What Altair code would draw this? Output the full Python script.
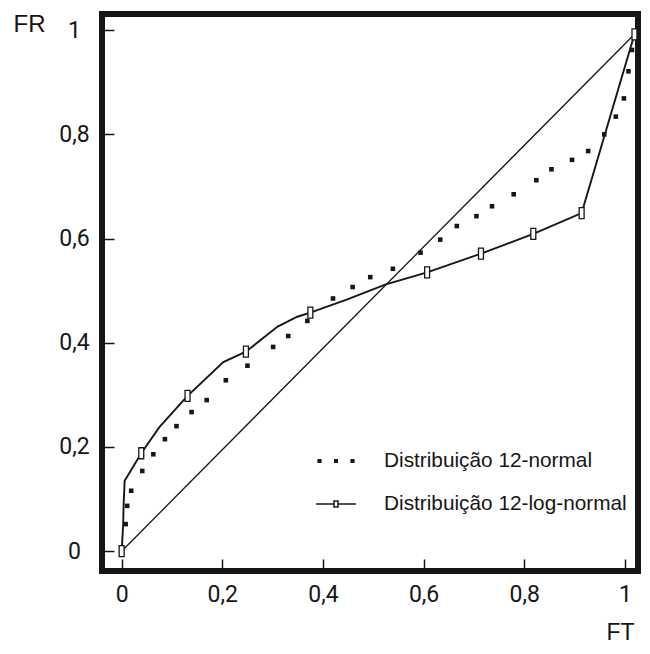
import altair as alt
import pandas as pd

# ---- data ----
series_names = ["Distribuição 12-normal", "Distribuição 12-log-normal"]

normal_x = [0.008, 0.011, 0.019, 0.041, 0.063, 0.086, 0.109, 0.139, 0.169, 0.207,
            0.250, 0.301, 0.331, 0.369, 0.420, 0.459, 0.494, 0.539, 0.594, 0.633,
            0.666, 0.705, 0.736, 0.779, 0.824, 0.854, 0.895, 0.927, 0.959, 0.982,
            0.998, 1.007, 1.014]
normal_y = [0.052, 0.087, 0.116, 0.154, 0.186, 0.215, 0.240, 0.267, 0.290, 0.328,
            0.356, 0.392, 0.413, 0.442, 0.485, 0.507, 0.526, 0.542, 0.573, 0.598,
            0.624, 0.643, 0.662, 0.685, 0.712, 0.733, 0.751, 0.768, 0.800, 0.834,
            0.869, 0.921, 0.962]

lognormal_line_x = [0.000, 0.003, 0.004, 0.006, 0.039, 0.075, 0.131, 0.202, 0.247,
                    0.310, 0.349, 0.375, 0.447, 0.525, 0.607, 0.714, 0.818, 0.914, 1.019]
lognormal_line_y = [0.000, 0.050, 0.090, 0.135, 0.188, 0.238, 0.298, 0.363, 0.383,
                    0.431, 0.450, 0.458, 0.483, 0.512, 0.535, 0.571, 0.609, 0.649, 0.992]

lognormal_mark_x = [0.000, 0.039, 0.131, 0.247, 0.375, 0.607, 0.714, 0.818, 0.914, 1.019]
lognormal_mark_y = [0.000, 0.188, 0.298, 0.383, 0.458, 0.535, 0.571, 0.609, 0.649, 0.992]

diag_x = [0.0, 1.019]
diag_y = [0.0, 0.992]

x_ticks = [0, 0.2, 0.4, 0.6, 0.8, 1]
y_ticks = [0, 0.2, 0.4, 0.6, 0.8, 1]

# ---- tables ----
df_normal = pd.DataFrame({"FT": normal_x, "FR": normal_y})
df_logline = pd.DataFrame({"FT": lognormal_line_x, "FR": lognormal_line_y,
                           "ordem": range(len(lognormal_line_x))})
df_logmark = pd.DataFrame({"FT": lognormal_mark_x, "FR": lognormal_mark_y})
df_diag = pd.DataFrame({"FT": diag_x, "FR": diag_y, "ordem": [0, 1]})
# legend-only table: no positions, so no marks drawn, only legend entries
df_legend = pd.DataFrame({"serie": series_names, "FT": [None, None], "FR": [None, None]})

INK = "#161616"
TICK_FONT = "Roboto, Liberation Sans, sans-serif"
TEXT_FONT = "Liberation Sans, Arial, sans-serif"

SYM_DOTS = ("M-0.89,-0.065h0.13v0.13h-0.13z"
            "M-0.065,-0.065h0.13v0.13h-0.13z"
            "M0.76,-0.065h0.13v0.13h-0.13z")
SYM_LINE = "M-1,0H-0.1M0.1,0H1M-0.1,-0.15h0.2v0.3h-0.2z"

xscale = alt.Scale(domain=[-0.039, 1.026], nice=False, zero=False)
yscale = alt.Scale(domain=[-0.038, 1.031], nice=False, zero=False)

label_expr = "replace(toString(datum.value), '.', ',')"

x_axis = alt.Axis(values=x_ticks, offset=-12, tickSize=12, domain=False, grid=False,
                  labelExpr=label_expr, labelFlush=False, labelPadding=12,
                  title="FT", titleAlign="right", titleBaseline="alphabetic",
                  titleX=532, titleY=80, titleAngle=0, titleFontSize=23)
y_axis = alt.Axis(values=y_ticks, offset=-12, tickSize=12, domain=False, grid=False,
                  labelExpr=label_expr, labelFlush=False, labelPadding=28,
                  labelAlign="center", labelBaseline="middle",
                  title="FR", titleAlign="left", titleBaseline="alphabetic",
                  titleX=-101, titleY=17, titleAngle=0, titleFontSize=24)

legend = alt.Legend(
    title=None, orient="none", legendX=213, legendY=426,
    symbolSize=1600, labelOffset=27, rowPadding=12, padding=0,
    symbolStrokeWidth=1.5, symbolOpacity=1,
    labelFont=TEXT_FONT, labelFontSize=20.8, labelColor=INK, labelLimit=400,
)

diag = alt.Chart(df_diag).mark_line(color=INK, strokeWidth=1.3).encode(
    x=alt.X("FT:Q", scale=xscale, axis=x_axis),
    y=alt.Y("FR:Q", scale=yscale, axis=y_axis),
    order="ordem:O",
)

logline = alt.Chart(df_logline).mark_line(color=INK, strokeWidth=1.9).encode(
    x=alt.X("FT:Q", scale=xscale),
    y=alt.Y("FR:Q", scale=yscale),
    order="ordem:O",
)

logmark = alt.Chart(df_logmark).mark_point(
    shape="M-0.45,-1h0.9v2h-0.9z", size=121, filled=True, fill="white",
    stroke=INK, strokeWidth=1.3, opacity=1,
).encode(
    x=alt.X("FT:Q", scale=xscale),
    y=alt.Y("FR:Q", scale=yscale),
)

normal = alt.Chart(df_normal).mark_square(size=21, opacity=1, color=INK).encode(
    x=alt.X("FT:Q", scale=xscale),
    y=alt.Y("FR:Q", scale=yscale),
)

legend_layer = alt.Chart(df_legend).mark_point(
    filled=True, size=1600, strokeWidth=1.5, opacity=1,
).encode(
    x=alt.X("FT:Q", scale=xscale),
    y=alt.Y("FR:Q", scale=yscale),
    fill=alt.Fill("serie:N", scale=alt.Scale(domain=series_names, range=[INK, "white"]),
                  legend=legend),
    stroke=alt.Stroke("serie:N", scale=alt.Scale(domain=series_names, range=[INK, INK]),
                      legend=legend),
    shape=alt.Shape("serie:N", scale=alt.Scale(domain=series_names, range=[SYM_DOTS, SYM_LINE]),
                    legend=legend),
)

chart = alt.layer(diag, logline, normal, logmark, legend_layer).properties(
    width=536, height=557,
    autosize=alt.AutoSizeParams(type="none"),
    padding={"left": 94, "top": 6, "right": 3, "bottom": 74},
    background="white",
).configure_view(
    stroke=INK, strokeWidth=6,
).configure_axis(
    labelFont=TICK_FONT, labelFontSize=23, labelColor=INK,
    tickColor=INK, tickWidth=1.5,
    titleFont=TEXT_FONT, titleFontWeight="normal", titleColor=INK,
)

chart.save("out.html", embed_options={"renderer": "svg", "actions": False})
